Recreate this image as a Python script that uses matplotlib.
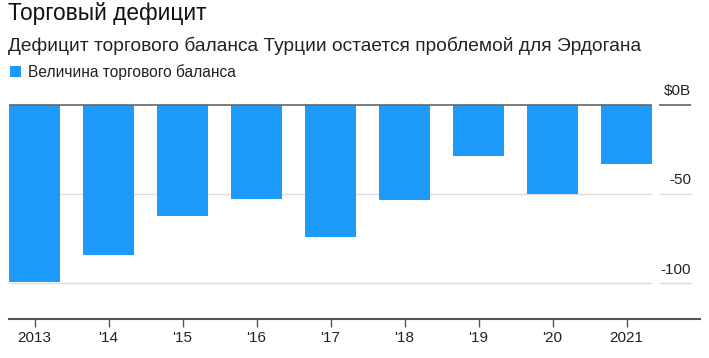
import matplotlib
matplotlib.use("Agg")
import matplotlib.pyplot as plt
from matplotlib import font_manager

years = ["2013", "'14", "'15", "'16", "'17", "'18", "'19", "'20", "2021"]
balance = [-99.2, -84.0, -62.2, -52.9, -73.9, -53.2, -29.0, -49.9, -33.3]
ytick_vals = [0, -50, -100]
ytick_labels = ["$0B", "-50", "-100"]

names = {f.name for f in font_manager.fontManager.ttflist}
fam = [n for n in ["Liberation Sans Narrow", "Liberation Sans", "DejaVu Sans"] if n in names]
plt.rcParams['font.family'] = fam

W, H = 709, 358
fig = plt.figure(figsize=(W / 100, H / 100), dpi=100)

def fx(px):
    return px / W

def fy(py):
    return 1 - py / H

ax_left, ax_right, ax_top, ax_bot = 9, 700, 80, 319
ax = fig.add_axes([fx(ax_left), fy(ax_bot), (ax_right - ax_left) / W, (ax_bot - ax_top) / H])

x = list(range(len(years)))
blue = '#1d9bfa'
ax.bar(x, balance, width=0.69, color=blue, zorder=2)
ax.set_xlim(-0.345, 8.993)
ax.set_ylim(-120, 13.8)

grid_end = 8.345
lab_start, lab_end = 8.44, 8.87
for v, lab in zip(ytick_vals, ytick_labels):
    col = '#666666' if v == 0 else '#dddddd'
    lw = 1.2 if v == 0 else 1.0
    ax.hlines(v, -0.345, grid_end, colors=col, linewidth=lw, zorder=3 if v == 0 else 1)
    ax.hlines(v, lab_start, lab_end, colors=col, linewidth=lw, zorder=1)
    ax.annotate(lab, xy=(lab_end, v), xytext=(0, 7), textcoords='offset points',
                ha='right', va='baseline', fontsize=11, color='#222222')

for s in ['top', 'right', 'left']:
    ax.spines[s].set_visible(False)
ax.spines['bottom'].set_color('#555555')
ax.spines['bottom'].set_linewidth(1.5)
ax.set_yticks([])
ax.set_xticks(x)
ax.set_xticklabels(years, fontsize=11, color='#222222')
ax.tick_params(axis='x', length=6, width=1, color='#555555', pad=3)

fig.text(fx(8), fy(20), "Торговый дефицит", fontsize=16.3, color='#111111', va='baseline', ha='left')
fig.text(fx(8), fy(51), "Дефицит торгового баланса Турции остается проблемой для Эрдогана",
         fontsize=13.8, color='#222222', va='baseline', ha='left')
fig.patches.append(matplotlib.patches.Rectangle((fx(10), fy(77)), 11 / W, 11 / H,
                   transform=fig.transFigure, facecolor=blue, edgecolor='none'))
fig.text(fx(28), fy(77), "Величина торгового баланса", fontsize=11.2, color='#222222',
         va='baseline', ha='left')

fig.savefig("out.png", dpi=100)
